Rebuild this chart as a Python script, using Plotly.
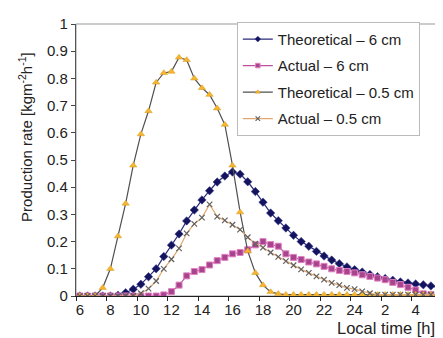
import plotly.graph_objects as go

# half-hourly steps from 06:00 to 06:00 next day (49 points)
idx = list(range(49))
tick_pos = [0, 4, 8, 12, 16, 20, 24, 28, 32, 36, 40, 44, 48]
tick_labels = ["6", "8", "10", "12", "14", "16", "18", "20", "22", "24", "2", "4", "6"]

theo_6cm = [0, 0, 0, 0, 0, 0.003, 0.012, 0.025, 0.043, 0.071, 0.10, 0.145, 0.187,
            0.228, 0.276, 0.316, 0.353, 0.387, 0.419, 0.441, 0.456, 0.448, 0.42,
            0.384, 0.345, 0.305, 0.277, 0.25, 0.223, 0.20, 0.183, 0.164, 0.147,
            0.132, 0.119, 0.107, 0.097, 0.088, 0.079, 0.071, 0.064, 0.058, 0.052,
            0.048, 0.044, 0.041, 0.037, 0.033, 0.03]
act_6cm = [0, 0, 0, 0, 0, 0, 0, 0, 0, 0, 0, 0.004, 0.016, 0.04, 0.074, 0.09,
           0.097, 0.114, 0.13, 0.142, 0.155, 0.16, 0.17, 0.188, 0.2, 0.189,
           0.183, 0.155, 0.142, 0.134, 0.125, 0.118, 0.109, 0.10, 0.094, 0.09,
           0.085, 0.078, 0.072, 0.066, 0.06, 0.05, 0.042, 0.032, 0.022, 0.008,
           0.005, 0.005, 0.005]
theo_05cm = [0, 0, 0, 0.03, 0.10, 0.22, 0.34, 0.48, 0.595, 0.68, 0.785, 0.82,
             0.825, 0.877, 0.868, 0.80, 0.765, 0.74, 0.69, 0.63, 0.48, 0.308,
             0.165, 0.085, 0.04, 0.015, 0.008, 0.005, 0.005, 0.005, 0.005, 0.005,
             0.005, 0.005, 0.005, 0.005, 0.005, 0.005, 0.005, 0.005, 0.005, 0.005,
             0.005, 0.005, 0.005, 0.005, 0.005, 0.005, 0.005]
act_05cm = [0, 0, 0, 0, 0, 0, 0, 0, 0.01, 0.027, 0.055, 0.10, 0.135, 0.175, 0.23,
            0.265, 0.288, 0.337, 0.292, 0.278, 0.262, 0.244, 0.216, 0.192, 0.178,
            0.16, 0.144, 0.128, 0.113, 0.098, 0.085, 0.072, 0.06, 0.048, 0.04,
            0.03, 0.025, 0.017, 0.01, 0.005, 0.005, 0.005, 0.005, 0.005, 0.005,
            0.005, 0.005, 0.005, 0.005]

FONT = "Liberation Sans, Arial, sans-serif"

styles = [
    ("Theoretical – 6 cm", theo_6cm,
     dict(color="#2a2a7a", width=1.2),
     dict(symbol="diamond", size=6.5, color="#14145e", line=dict(color="#3a3a90", width=0.5))),
    ("Actual – 6 cm", act_6cm,
     dict(color="#c0509a", width=1.2),
     dict(symbol="square", size=6, color="#a8448e", line=dict(color="#e080c0", width=1))),
    ("Theoretical – 0.5 cm", theo_05cm,
     dict(color="#505050", width=1.2),
     dict(symbol="triangle-up", size=6.5, color="#f5b52e", line=dict(color="#d89a20", width=0.5))),
    ("Actual – 0.5 cm", act_05cm,
     dict(color="#e0a870", width=1.2),
     dict(symbol="x-thin", size=5.5, color="#606060", line=dict(color="#606060", width=1.2))),
]

fig = go.Figure()
for k, (name, vals, ln, mk) in enumerate(styles):
    fig.add_trace(go.Scatter(x=idx, y=vals, mode="lines+markers", name=name,
                             showlegend=False, line=ln, marker=mk))
for k, (name, vals, ln, mk) in enumerate(styles):
    small = dict(mk)
    small["size"] = 4.5
    fig.add_trace(go.Scatter(x=[None], y=[None], mode="lines+markers", name=name,
                             legendgroup=f"g{k}", line=ln, marker=small))

fig.update_layout(
    width=443, height=338,
    margin=dict(l=68, r=1, t=16, b=50),
    paper_bgcolor="white", plot_bgcolor="white",
    font=dict(family=FONT, size=15, color="#222"),
    showlegend=True,
    legend=dict(x=0.43, y=1.008, xanchor="left", yanchor="top",
                bgcolor="white", bordercolor="#bbbbbb", borderwidth=1,
                font=dict(size=15, color="#222"), tracegroupgap=4,
                itemwidth=30),
    xaxis=dict(range=[-0.5, 48.5], tickvals=tick_pos[:-1], ticktext=tick_labels[:-1],
               ticks="", showgrid=False, zeroline=False,
               showline=True, linecolor="#222", linewidth=1.2,
               tickfont=dict(size=15, color="#222"),
               minor=dict(tick0=-0.5, dtick=4, ticks="outside", ticklen=4,
                          tickcolor="#222", showgrid=False)),
    yaxis=dict(range=[0, 1], dtick=0.1, ticks="outside", ticklen=4,
               tickcolor="#444", showgrid=False, zeroline=False,
               showline=True, linecolor="#555", linewidth=1.2,
               tickfont=dict(size=15, color="#222")),
    shapes=[dict(type="rect", xref="paper", yref="paper", x0=0, y0=0, x1=1, y1=1,
                 line=dict(color="#999999", width=1), layer="below")],
    annotations=[
        # last tick label (clipped at the right edge, as in the original)
        dict(text=tick_labels[-1], xref="x", yref="paper", x=tick_pos[-1], y=0,
             xanchor="center", yanchor="top", yshift=-3, showarrow=False,
             font=dict(size=15, color="#222")),
        dict(text="Local time [h]", xref="paper", yref="paper", x=1.0, y=0,
             xanchor="right", yanchor="top", yshift=-21, xshift=-13,
             showarrow=False, font=dict(size=16.5, color="#222")),
        dict(text="Production rate [kgm<sup>-2</sup>h<sup>-1</sup>]",
             xref="paper", yref="paper", x=0, y=0.585, xshift=-50,
             xanchor="center", yanchor="middle", textangle=-90,
             showarrow=False, font=dict(size=15, color="#222")),
    ],
)

fig.write_html("out.html")
